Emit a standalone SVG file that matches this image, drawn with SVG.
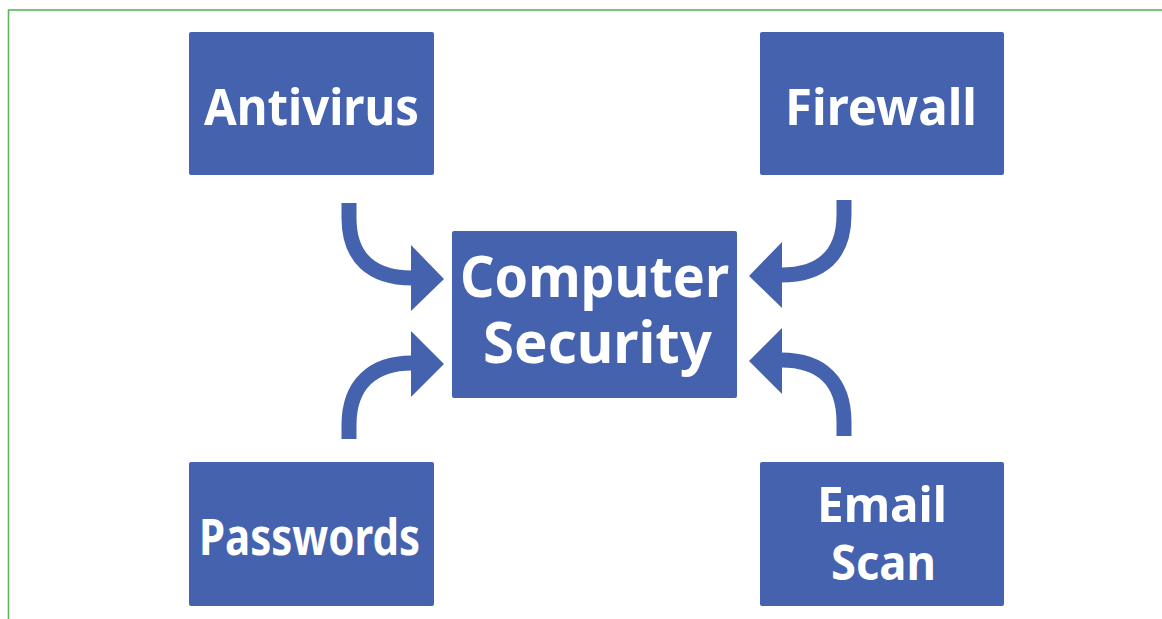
<svg xmlns="http://www.w3.org/2000/svg" width="1162" height="619" viewBox="0 0 1162 619">
<style>
.box{fill:#4562ae;}
.lbl{fill:#ffffff;font-family:"Noto Sans","Open Sans",sans-serif;font-weight:bold;text-anchor:middle;}
.shaft{fill:none;stroke:#4562ae;stroke-width:15;}
.head{fill:#4562ae;}
</style>
<rect x="0" y="0" width="1162" height="619" fill="#ffffff"/>
<rect x="8.5" y="10" width="1200" height="700" fill="none" stroke="#5cb85c" stroke-width="1.6"/>
<g id="connectors">
<path class="shaft" d="M349,203 L349,218 C349,258 372,278 412,278"/>
<polygon class="head" points="411,245 444,279 411,311"/>
<path class="shaft" d="M844,200 L844,215 C844,255 822,275 781,275"/>
<polygon class="head" points="782,242 749,276 782,308"/>
<path class="shaft" d="M349,439 L349,425 C349,385 372,363 412,363"/>
<polygon class="head" points="411,331 444,364 411,397"/>
<path class="shaft" d="M844,436 L844,422 C844,382 822,360 781,360"/>
<polygon class="head" points="782,328 749,361 782,394"/>
</g>
<g id="antivirus">
<rect class="box" x="189" y="32" width="245" height="143" rx="2"/>
<text class="lbl" x="311.5" y="125" font-size="51" textLength="215" lengthAdjust="spacingAndGlyphs">Antivirus</text>
</g>
<g id="firewall">
<rect class="box" x="760" y="32" width="244" height="143" rx="2"/>
<text class="lbl" x="881" y="125" font-size="51" textLength="192" lengthAdjust="spacingAndGlyphs">Firewall</text>
</g>
<g id="computer-security">
<rect class="box" x="452" y="231" width="285" height="167" rx="2"/>
<text class="lbl" x="594.5" y="297" font-size="57" textLength="269" lengthAdjust="spacingAndGlyphs">Computer</text>
<text class="lbl" x="597.5" y="363" font-size="57" textLength="229" lengthAdjust="spacingAndGlyphs">Security</text>
</g>
<g id="passwords">
<rect class="box" x="189" y="462" width="245" height="144" rx="2"/>
<text class="lbl" x="309.5" y="555" font-size="51" textLength="221" lengthAdjust="spacingAndGlyphs">Passwords</text>
</g>
<g id="email-scan">
<rect class="box" x="760" y="462" width="244" height="144" rx="2"/>
<text class="lbl" x="882" y="522" font-size="49" textLength="130" lengthAdjust="spacingAndGlyphs">Email</text>
<text class="lbl" x="883.5" y="580" font-size="49" textLength="105" lengthAdjust="spacingAndGlyphs">Scan</text>
</g>
</svg>
